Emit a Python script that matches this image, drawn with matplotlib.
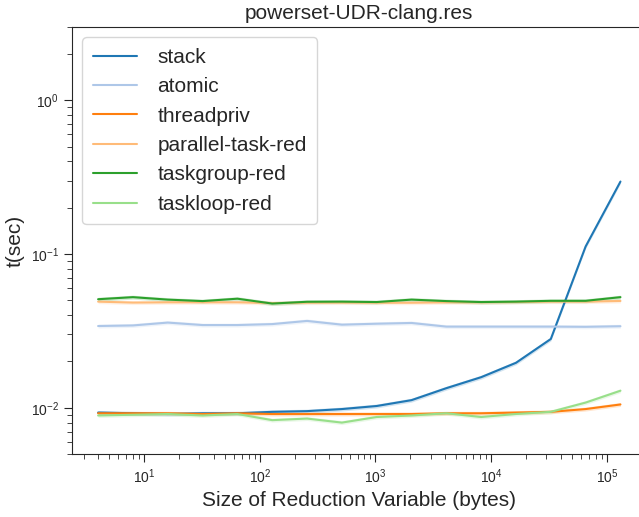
import matplotlib
matplotlib.use("Agg")
import matplotlib.pyplot as plt
import seaborn as sns
import numpy as np

# reduction variable sizes (bytes)
sizes = [4, 8, 16, 32, 64, 128, 256, 512, 1024, 2048, 4096, 8192,
         16384, 32768, 65536, 131072]

# mean runtimes (sec)
stack = [0.0093, 0.0092, 0.0091, 0.0092, 0.0092, 0.0094, 0.0095, 0.0098,
         0.01026, 0.0112, 0.0134, 0.0158, 0.0196, 0.0280, 0.112, 0.296]
atomic = [0.0340, 0.0343, 0.0358, 0.0345, 0.0345, 0.0350, 0.0367, 0.0347,
          0.0352, 0.0356, 0.0337, 0.0337, 0.0337, 0.0337, 0.0336, 0.0339]
threadpriv = [0.0092, 0.0092, 0.0092, 0.0091, 0.0092, 0.0091, 0.0091, 0.0091,
              0.0091, 0.0091, 0.0092, 0.0092, 0.0093, 0.0094, 0.0098, 0.0105]
parallel_task_red = [0.0490, 0.0483, 0.0485, 0.0485, 0.0485, 0.0480, 0.0482,
                     0.0483, 0.0482, 0.0482, 0.0485, 0.0485, 0.0487, 0.0490,
                     0.0490, 0.0495]
taskgroup_red = [0.0508, 0.0524, 0.0505, 0.0494, 0.0512, 0.0476, 0.0489,
                 0.0490, 0.0487, 0.0505, 0.0494, 0.0487, 0.0490, 0.0496,
                 0.0496, 0.0524]
taskloop_red = [0.0089, 0.0090, 0.0091, 0.0089, 0.0091, 0.0083, 0.0085,
                0.0080, 0.0087, 0.0089, 0.0092, 0.0087, 0.0091, 0.0094,
                0.0108, 0.0129]

series = [("stack", stack), ("atomic", atomic), ("threadpriv", threadpriv),
          ("parallel-task-red", parallel_task_red),
          ("taskgroup-red", taskgroup_red), ("taskloop-red", taskloop_red)]

sns.set_style("ticks")
plt.rcParams['font.family'] = ['Liberation Sans', 'DejaVu Sans']
colors = sns.color_palette("tab20", 6)

fig = plt.figure(figsize=(6.39, 5.17), dpi=100)
ax = fig.add_axes([0.1127, 0.1219, 0.899, 0.8259])

spread = 1.03  # faint ci band
for (name, vals), c in zip(series, colors):
    v = np.array(vals)
    ax.fill_between(sizes, v / spread, v * spread, color=c, alpha=0.2,
                    linewidth=0)
    ax.plot(sizes, v, color=c, linewidth=1.5, label=name)

ax.set_xscale("log")
ax.set_yscale("log")
ax.set_xlim(2.38, 2.2e5)
ax.set_ylim(0.005, 3.0)
ax.spines["right"].set_visible(False)
ax.tick_params(axis="both", which="major", labelsize=10, length=6)
ax.tick_params(axis="both", which="minor", length=3.5)

ax.set_title("powerset-UDR-clang.res", fontsize=15)
ax.set_xlabel("Size of Reduction Variable (bytes)", fontsize=15)
ax.set_ylabel("t(sec)", fontsize=15)
ax.legend(loc="upper left", fontsize=15, handlelength=2.1,
          handletextpad=1.0, labelspacing=0.5, borderpad=0.5)

plt.savefig("out.png", dpi=100)
